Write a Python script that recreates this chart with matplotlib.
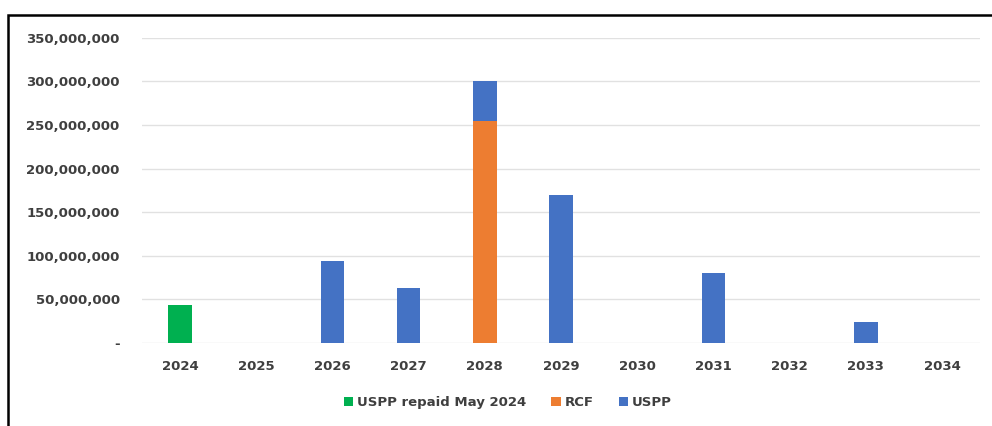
import matplotlib.pyplot as plt
import numpy as np
from matplotlib.patches import Rectangle
from matplotlib.ticker import FuncFormatter

years = ["2024", "2025", "2026", "2027", "2028", "2029", "2030", "2031", "2032", "2033", "2034"]
uspp_repaid = [43_000_000, 0, 0, 0, 0, 0, 0, 0, 0, 0, 0]
rcf = [0, 0, 0, 0, 255_000_000, 0, 0, 0, 0, 0, 0]
uspp = [0, 0, 94_000_000, 63_000_000, 45_000_000, 170_000_000, 0, 80_000_000, 0, 24_000_000, 0]

green = "#00B050"
orange = "#ED7D31"
blue = "#4472C4"
text_col = "#3F3F3F"

fig = plt.figure(figsize=(9.92, 4.26), dpi=100)
ax = fig.add_axes([0.143, 0.195, 0.845, 0.716])

x = np.arange(len(years))
w = 0.31
ax.bar(x, uspp_repaid, w, color=green, label="USPP repaid May 2024", zorder=3)
ax.bar(x, rcf, w, bottom=uspp_repaid, color=orange, label="RCF", zorder=3)
base = np.array(uspp_repaid) + np.array(rcf)
ax.bar(x, uspp, w, bottom=base, color=blue, label="USPP", zorder=3)

ax.set_ylim(0, 350_000_000)
ax.set_xlim(-0.5, len(years) - 0.5)
ax.set_yticks(np.arange(0, 350_000_001, 50_000_000))
ax.yaxis.set_major_formatter(FuncFormatter(lambda v, p: "-" if v == 0 else f"{int(v):,}"))
ax.set_xticks(x)
ax.set_xticklabels(years)

ax.grid(axis="y", color="#E1E1E1", linewidth=1.0, zorder=0)
for s in ax.spines.values():
    s.set_visible(False)
ax.tick_params(length=0, labelsize=9.5, labelcolor=text_col)
ax.tick_params(axis="y", pad=16)
ax.tick_params(axis="x", pad=12)
for lab in ax.get_xticklabels() + ax.get_yticklabels():
    lab.set_fontweight("bold")

fig.legend(loc="center", bbox_to_anchor=(0.512, 0.054), ncol=3, frameon=False,
           handlelength=0.7, handleheight=0.7, handletextpad=0.3, columnspacing=1.9,
           prop={"size": 9.5, "weight": "bold"}, labelcolor=text_col)

# outer chart border
fig.patches.append(Rectangle((8 / 992, -0.1), 1.1, 1 - 15 / 426 + 0.1,
                             transform=fig.transFigure, fill=False,
                             edgecolor="black", linewidth=1.8))

fig.savefig("out.png", dpi=100)
